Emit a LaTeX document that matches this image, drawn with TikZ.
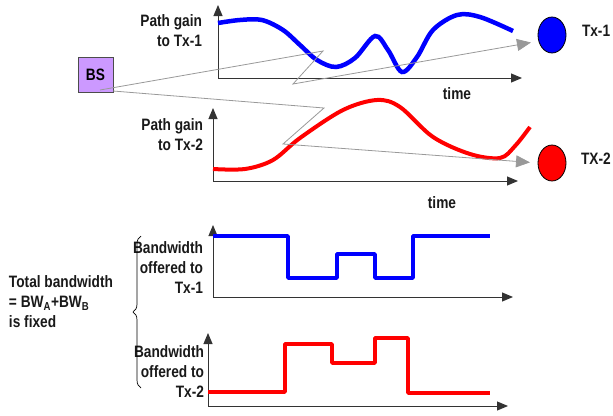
\documentclass[tikz,border=0pt]{standalone}
\usepackage{fontspec}
\setmainfont{Liberation Sans}[FakeStretch=0.83]
\usetikzlibrary{arrows.meta,decorations.pathreplacing,shapes.geometric}
\begin{document}
\begin{tikzpicture}[x=1pt,y=-1pt,
  lbl/.style={font=\bfseries\fontsize{16.5}{20}\selectfont, inner sep=0pt, outer sep=0pt, text=black!90},
  axis/.style={line width=1pt, draw=black!80, {Triangle[length=11pt,width=9pt]}-{Triangle[length=11pt,width=9pt]}},
  garrow/.style={draw=black!40, line width=0.8pt, -{Triangle[length=14pt,width=12pt]}},
  bluecurve/.style={draw=blue, line width=4.5pt, line cap=butt},
  redcurve/.style={draw=red, line width=4pt, line cap=butt},
  bluestep/.style={draw=blue, line width=3.5pt, line join=round},
  redstep/.style={draw=red, line width=3.5pt, line join=round},
  txnode/.style={ellipse, draw=black, line width=0.8pt, minimum width=28pt, minimum height=36pt, inner sep=0pt, outer sep=0pt},
  bsbox/.style={rectangle, draw=black!70, line width=0.8pt, fill={rgb,255:red,204;green,153;blue,255}, minimum width=35pt, minimum height=35pt, inner sep=0pt, outer sep=0pt, font=\bfseries\fontsize{16.5}{20}\selectfont}
]
\useasboundingbox (0,0) rectangle (613,415);

% BS and terminals
\node[bsbox] (bs) at (95.5,74.5) {BS};
\node[txnode, fill=blue] (tx1) at (552,35) {};
\node[txnode, fill=red] (tx2) at (552,163) {};
\node[lbl, anchor=north west] (tx1lbl) at (582,25) {Tx-1};
\node[lbl, anchor=north west] (tx2lbl) at (581,153) {TX-2};

% Graph 1
\coordinate (o1) at (218,78);
\draw[axis] (218,5) -- (o1) -- (522,78);
\node[lbl, anchor=north east, align=right] (pg1) at (202,15) {Path gain\\to Tx-1};
\node[lbl, anchor=north] (time1) at (457,88) {time};
\draw[bluecurve] plot[smooth, tension=0.55] coordinates {(218,23) (240,20) (262,20) (283,30) (300,45) (317,60) (336,67) (355,58) (375,36) (388,50) (402,72) (417,57) (433,30) (457,15) (480,17) (513,31)};

% Graph 2
\coordinate (o2) at (213,181);
\draw[axis] (213,108) -- (o2) -- (518,181);
\node[lbl, anchor=north east, align=right] (pg2) at (203,119) {Path gain\\to Tx-2};
\node[lbl, anchor=north] (time2) at (442,197) {time};
\draw[redcurve] plot[smooth, tension=0.55] coordinates {(213,169) (245,169) (273,160) (300,138) (343,110) (377,100) (400,107) (433,137) (470,154) (500,158) (515,146) (530,127)};

% Gray zigzag arrows
\draw[garrow, shorten >=8pt] ([xshift=-13pt,yshift=2pt]bs.south east) -- (323,51) -- (293,84) -- (tx1.205);
\draw[garrow, shorten >=8pt] ([yshift=1pt]bs.south east) -- (324,108) -- (283,144) -- (tx2.180);

% Graph 3
\coordinate (o3) at (213,297);
\draw[axis] (213,225) -- (o3) -- (513,297);
\draw[bluestep] (213,236) -- (288,236) -- (288,278) -- (337,278) -- (337,254) -- (375,254) -- (375,278) -- (413,278) -- (413,236) -- (490,236);
\node[lbl, anchor=north east, align=right] (bw1) at (203,242) {Bandwidth\\offered to\\Tx-1};

% Graph 4
\coordinate (o4) at (208,406);
\draw[axis] (208,333) -- (o4) -- (508,406);
\draw[redstep] (208,392) -- (285,392) -- (285,344) -- (332,344) -- (332,363) -- (375,363) -- (375,338) -- (408,338) -- (408,393) -- (490,393);
\node[lbl, anchor=north east, align=right] (bw2) at (204,346) {Bandwidth\\offered to\\Tx-2};

% Brace and total label
\draw[line width=0.7pt, decorate, decoration={brace, amplitude=8pt}] (141,388) -- (141,236);
\node[lbl, anchor=north west, align=left] (total) at (9,276) {Total bandwidth\\= BW\textsubscript{A}+BW\textsubscript{B}\\is fixed};
\end{tikzpicture}
\end{document}
